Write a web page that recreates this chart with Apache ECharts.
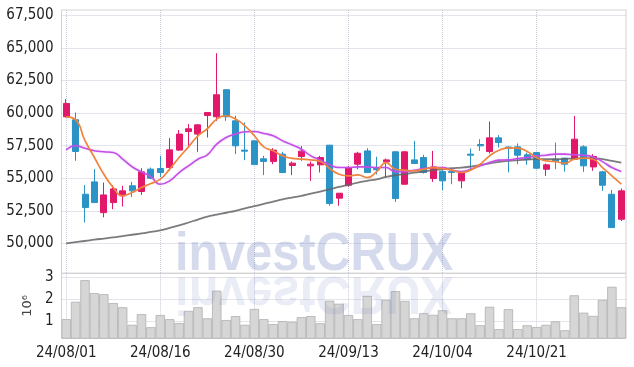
<!DOCTYPE html>
<html><head><meta charset="utf-8">
<script src="https://cdn.jsdelivr.net/npm/echarts@6/dist/echarts.min.js"></script>
<style>html,body{margin:0;padding:0;background:#fff}#c{width:634px;height:367px}</style>
</head><body><div id="c"></div>
<script>
const dates = ['24/08/01','24/08/02','24/08/05','24/08/06','24/08/07','24/08/08','24/08/09','24/08/12','24/08/13','24/08/14',
'24/08/16','24/08/19','24/08/20','24/08/21','24/08/22','24/08/23','24/08/26','24/08/27','24/08/28','24/08/29',
'24/08/30','24/09/02','24/09/03','24/09/04','24/09/05','24/09/06','24/09/09','24/09/10','24/09/11','24/09/12',
'24/09/13','24/09/19','24/09/20','24/09/23','24/09/24','24/09/25','24/09/26','24/09/27','24/09/30','24/10/02',
'24/10/04','24/10/07','24/10/08','24/10/10','24/10/11','24/10/14','24/10/15','24/10/16','24/10/17','24/10/18',
'24/10/21','24/10/22','24/10/23','24/10/24','24/10/25','24/10/28','24/10/29','24/10/30','24/10/31','24/11/01'];

const opens  = [59720,59490,53770,54720,52360,53130,53650,54420,53980,55700,55750,55820,57160,58590,58390,59820,59720,61800,59410,57160,
57870,56490,56290,56850,55980,56670,55950,56030,57540,53470,54460,56080,57100,55750,56260,57030,54540,56410,56590,54980,
55510,55510,54800,56850,57590,57050,58100,57400,57410,56800,56970,55690,56460,56540,56460,57410,55870,55490,53770,51850];
const closes = [60745,57055,52750,53130,53720,54180,54030,54030,55490,55000,55440,57180,58390,58800,59100,60050,61410,59720,57490,57080,
56050,56290,57160,55440,56160,57080,56080,56590,53060,53850,55820,56920,55440,55650,56410,53440,57030,56130,55440,55870,
54800,55440,55440,56770,57490,58100,57740,57300,56770,56460,55770,56030,56310,56080,58000,55950,56670,54460,51210,54030];
const lows   = [59670,56340,51600,53100,52000,52620,52830,53570,53720,54930,55080,55570,57100,57490,57030,58130,59410,59410,56850,56390,
56050,55240,56080,55390,55240,56340,54800,55440,52880,52880,54340,55690,55400,55300,55050,53180,54490,56100,55360,54720,
54080,54540,54230,55570,57100,56900,57360,55450,56080,56030,55690,55180,55690,55510,56460,55490,55570,54030,51200,51720];
const highs  = [61080,60050,54470,55700,54670,54470,54420,54720,55770,55820,56720,58080,58700,59160,59160,60050,64600,61800,59800,59280,
57900,56720,57310,57030,56290,57470,56290,56720,57540,53850,55950,57030,57310,56650,56510,57100,57100,57870,56800,57100,
55620,55740,55440,57280,58000,59360,58310,57450,57670,56970,57030,56130,57740,56590,59790,57540,56850,55570,54100,54210];

const ma5  = [59720,59500,57880,56590,55310,54290,53650,53900,54290,54590,54930,55700,56590,57410,58260,58800,59540,59800,59540,59030,
58260,57410,57110,56720,56520,56470,56410,56290,55750,55310,55180,55260,55050,55510,56200,55690,55620,55570,55690,55820,
55740,55620,55440,55640,56080,56720,57150,57330,57310,57050,56590,56330,56280,56150,56460,56540,56460,55820,55180,54540];
const ma20 = [57180,57490,57310,57110,57030,56980,56470,55880,55490,55110,54540,54800,55440,55950,56460,56800,57620,58130,58390,58570,
58590,58440,58260,57870,57570,57230,56720,56390,56030,55820,55820,55870,55870,55820,55820,55510,55510,55620,55740,55820,
55820,55620,55510,55690,55950,56210,56390,56410,56510,56590,56720,56770,56850,56850,56800,56770,56640,56280,55820,55510];
const ma120 = [50000,50090,50180,50280,50370,50460,50560,50660,50760,50880,51000,51180,51380,51600,51830,52050,52200,52350,52500,52680,
52860,53030,53200,53380,53520,53650,53820,53980,54150,54330,54500,54670,54800,54920,55100,55230,55310,55440,55510,55620,
55690,55770,55820,55900,56000,56150,56257,56334,56385,56436,56462,56462,56462,56487,56513,56539,56539,56462,56334,56205];

// volume in millions of shares
const volume = [1.08,1.88,2.88,2.28,2.23,1.82,1.63,0.82,1.31,0.71,1.27,1.08,0.9,1.46,1.63,1.12,2.39,1.04,1.22,0.82,
1.55,1.08,0.85,0.99,0.96,1.17,1.22,0.89,1.93,1.79,1.27,1.08,2.15,0.85,1.97,2.37,1.92,1.12,1.35,1.28,
1.49,1.12,1.12,1.35,0.8,1.65,0.62,1.54,0.62,0.8,0.72,0.82,0.98,0.57,2.18,1.38,1.23,1.97,2.57,1.63];

const priceTicks = [50000,52500,55000,57500,60000,62500,65000,67500];
const volTicks = [1,2,3];

const FONT = "'Liberation Sans Narrow','DejaVu Sans Condensed',sans-serif";
const candleData = dates.map((d,i)=>[opens[i],closes[i],lows[i],highs[i]]);
const gridLine = {type:'dotted', color:'#c8cad8', width:1};

const chart = echarts.init(document.getElementById('c'), null, {renderer:'canvas'});
chart.setOption({
  animation:false,
  backgroundColor:'#fff',
  grid:[
    {left:61.5, right:8, top:10, height:263.3, show:true, borderColor:'#d2d2d2', borderWidth:1, backgroundColor:'transparent'},
    {left:61.5, right:8, top:273.3, height:65, show:true, borderColor:'#d2d2d2', borderWidth:1, backgroundColor:'transparent'}
  ],
  xAxis:[
    {type:'category', gridIndex:0, data:dates, boundaryGap:true,
     axisLine:{show:false}, axisTick:{show:false}, axisLabel:{show:false},
     splitLine:{show:true, interval:9, alignWithLabel:true, lineStyle:gridLine}},
    {type:'category', gridIndex:1, data:dates, boundaryGap:true,
     axisLine:{show:false}, axisTick:{show:false},
     axisLabel:{interval:9, fontFamily:FONT, fontSize:15, color:'#222', margin:7},
     splitLine:{show:true, interval:9, alignWithLabel:true, lineStyle:gridLine}}
  ],
  yAxis:[
    {type:'value', gridIndex:0, min:47700, max:67920, scale:true,
     axisLine:{show:false}, axisTick:{show:false, customValues:priceTicks},
     axisLabel:{customValues:priceTicks, fontFamily:FONT, fontSize:15, color:'#222', margin:8,
       formatter:v=>Number(v).toLocaleString('en-US')},
     splitLine:{show:true, lineStyle:gridLine}},
    {type:'value', gridIndex:1, min:0.2, max:3.19,
     axisLine:{show:false}, axisTick:{show:false, customValues:volTicks},
     axisLabel:{customValues:volTicks, fontFamily:FONT, fontSize:15, color:'#222', margin:8},
     splitLine:{show:true, lineStyle:gridLine},
     name:'10\u2076', nameLocation:'middle', nameRotate:90, nameGap:27,
     nameTextStyle:{fontFamily:"'DejaVu Sans',sans-serif", fontSize:13, color:'#444'}}
  ],
  series:[
    {type:'candlestick', xAxisIndex:0, yAxisIndex:0, data:candleData, barWidth:6.5, z:2,
     itemStyle:{color:'#e2196b', color0:'#2b93c6', borderColor:'#e2196b', borderColor0:'#2b93c6', borderWidth:1}},
    {type:'line', xAxisIndex:0, yAxisIndex:0, data:ma120, showSymbol:false, smooth:true, z:3,
     lineStyle:{color:'rgba(100,100,100,0.85)', width:1.8}},
    {type:'line', xAxisIndex:0, yAxisIndex:0, data:ma20, showSymbol:false, smooth:true, z:3,
     lineStyle:{color:'#c44fe6', width:1.6, shadowBlur:2, shadowColor:'rgba(196,79,230,0.35)'}},
    {type:'line', xAxisIndex:0, yAxisIndex:0, data:ma5, showSymbol:false, smooth:true, z:4,
     lineStyle:{color:'#f0843c', width:1.7}},
    {type:'bar', xAxisIndex:1, yAxisIndex:1, data:volume, barCategoryGap:'0%',
     itemStyle:{color:'#d6d6d6', borderColor:'#b0b0b0', borderWidth:0.8}}
  ],
  graphic:[
    {type:'text', x:175, y:255, scaleX:0.9, z:100, silent:true,
     style:{text:'investCRUX', font:'bold 54px "Liberation Sans", Arial, sans-serif',
       fill:'rgba(112,128,192,0.29)', align:'left', verticalAlign:'middle'}},
    {type:'text', x:175, y:291.7, scaleX:0.9, scaleY:-1, z:100, silent:true,
     style:{text:'investCRUX', font:'bold 54px "Liberation Sans", Arial, sans-serif',
       fill:'rgba(112,128,192,0.15)', align:'left', verticalAlign:'middle'}}
  ]
});
</script></body></html>
